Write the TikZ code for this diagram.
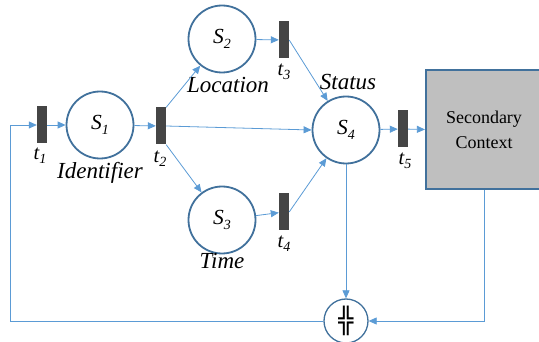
\documentclass[tikz,border=0pt]{standalone}
\usepackage{fontspec}
\setmainfont{Liberation Serif}
\newfontfamily\symfont{DejaVu Sans}
\usetikzlibrary{arrows.meta}
\definecolor{placeblue}{HTML}{41719C}
\definecolor{arcblue}{HTML}{5B9BD5}
\definecolor{bargray}{HTML}{454545}
\definecolor{boxgray}{HTML}{BFBFBF}
\newcommand\lsub[1]{\raisebox{-0.45ex}{\fontsize{14}{14}\selectfont\itshape #1}}
\tikzset{
  place/.style={circle, draw=placeblue, line width=1.8pt, fill=white,
    minimum size=67pt, inner sep=0pt, font=\fontsize{21.5}{21.5}\selectfont\itshape},
  trans/.style={rectangle, fill=bargray, draw=none, minimum width=10pt,
    minimum height=37pt, inner sep=0pt},
  arc/.style={draw=arcblue, line width=0.8pt},
  arr/.style={arc, -{Triangle[length=8pt,width=7pt]}},
  tlabel/.style={font=\fontsize{20.5}{20.5}\selectfont\itshape, inner sep=0pt},
  plabel/.style={font=\fontsize{23}{23}\selectfont\itshape, inner sep=0pt},
}
\begin{document}
\begin{tikzpicture}[x=1pt, y=-1pt]
\useasboundingbox (0,0) rectangle (539,342);

% places
\node[place] (S1) at (100,125) {S\lsub{1}};
\node[place] (S2) at (222,39) {S\lsub{2}};
\node[place] (S3) at (222,220) {S\lsub{3}};
\node[place] (S4) at (346,130) {S\lsub{4}};
\node[circle, draw=placeblue, line width=1.3pt, fill=white, minimum size=44pt,
  inner sep=0pt, font=\symfont\fontsize{25}{25}\selectfont] (B) at (346,321) {╬};

% transitions
\node[trans] (t1) at (42,125) {};
\node[trans] (t2) at (161,126) {};
\node[trans] (t3) at (284,40) {};
\node[trans] (t4) at (284,212) {};
\node[trans] (t5) at (403,129) {};

% secondary context box
\node[rectangle, draw=placeblue, line width=2.2pt, fill=boxgray,
  minimum width=116pt, minimum height=119pt, align=center, inner sep=0pt,
  font=\fontsize{18}{25}\selectfont] (SC) at (484,129.5) {Secondary\\Context};

% labels
\node[tlabel] (l1) at (40,156) {t\lsub{1}};
\node[tlabel] (l2) at (160,159) {t\lsub{2}};
\node[tlabel] (l3) at (284,72) {t\lsub{3}};
\node[tlabel] (l4) at (284,244) {t\lsub{4}};
\node[tlabel] (l5) at (405,161) {t\lsub{5}};
\node[plabel] (n1) at (100,173) {Identifier};
\node[plabel] (n2) at (228,85) {Location};
\node[plabel] (n3) at (222,261) {Time};
\node[plabel] (n4) at (348,82) {Status};

% arcs
\coordinate (lc) at (10,321);
\draw[arr] (B.west) -- (lc) |- (t1.west);
\draw[arr] (t1) -- (S1);
\draw[arr] (S1) -- (t2);
\draw[arr] (t2.north east) -- (S2);
\draw[arr] (t2.east) -- (S4.west);
\draw[arr] (t2.south east) -- (S3);
\draw[arr] (S2) -- (t3);
\draw[arr] (S3) -- (t4);
\draw[arr] (t3.east) -- (S4);
\draw[arr] (t4.east) -- (S4);
\draw[arr] (S4) -- (t5);
\draw[arr] (t5) -- (SC.west);
\draw[arr] (S4.south) -- (B.north);
\draw[arr] (SC.south) |- (B.east);
\end{tikzpicture}
\end{document}
